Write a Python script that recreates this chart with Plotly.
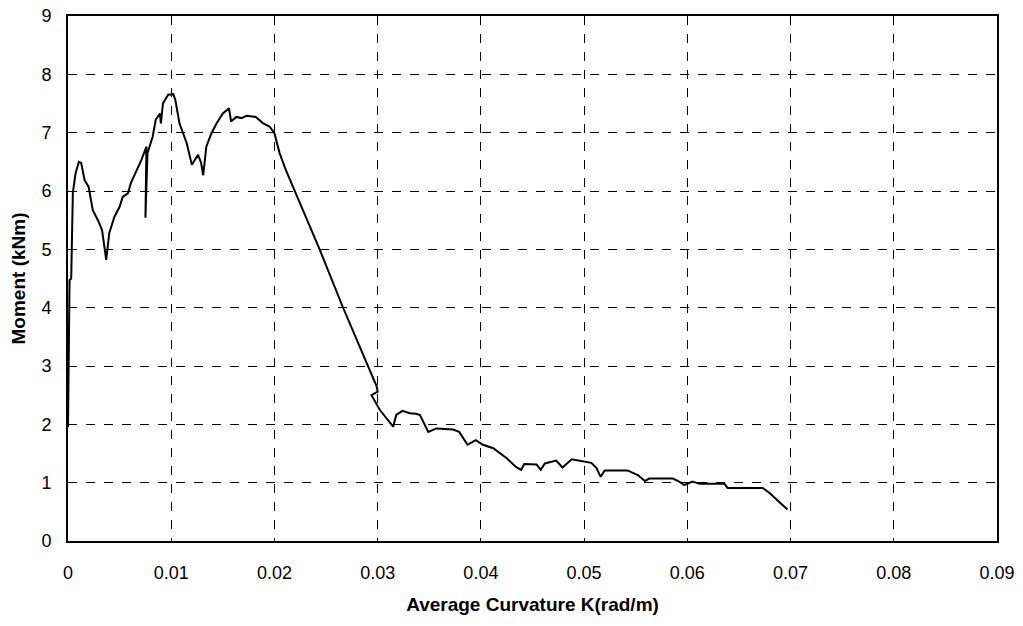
import plotly.graph_objects as go

curvature = [0.0, 0.0001, 0.00015, 0.00031, 0.00047, 0.00073, 0.00105, 0.00128, 0.0016, 0.0020,
             0.0024, 0.0029, 0.0033, 0.0037, 0.0040, 0.0045, 0.0050, 0.0053, 0.0058, 0.0061,
             0.0066, 0.0071, 0.0076, 0.0075, 0.0077, 0.0082, 0.0085, 0.0089, 0.0090, 0.0092,
             0.0097, 0.0102, 0.0104, 0.0108, 0.0115, 0.0120, 0.0126, 0.0129, 0.0131, 0.0134,
             0.0139, 0.0144, 0.0150, 0.0156, 0.0158, 0.0163, 0.0168, 0.0173, 0.0182, 0.0189,
             0.0195, 0.0200, 0.0205, 0.0211, 0.0218, 0.0244, 0.0266, 0.0299, 0.0300, 0.0294,
             0.0302, 0.0310, 0.0315, 0.0318, 0.0324, 0.0331, 0.0337, 0.0341, 0.0349, 0.0357,
             0.0373, 0.0379, 0.0387, 0.0395, 0.0402, 0.0412, 0.0425, 0.0434, 0.0439, 0.0442,
             0.0454, 0.0458, 0.0462, 0.0473, 0.0479, 0.0488, 0.0499, 0.0507, 0.0512, 0.0516,
             0.0520, 0.0542, 0.0552, 0.0559, 0.0563, 0.0586, 0.0592, 0.0597, 0.0605, 0.0612,
             0.0636, 0.0639, 0.0673, 0.0680, 0.0689, 0.0697]
moment = [1.95, 3.7, 4.47, 4.5, 5.97, 6.3, 6.5, 6.48, 6.19, 6.07,
          5.67, 5.50, 5.33, 4.82, 5.28, 5.56, 5.73, 5.90, 5.96, 6.14,
          6.33, 6.53, 6.76, 5.54, 6.65, 6.93, 7.22, 7.33, 7.16, 7.50,
          7.65, 7.66, 7.56, 7.16, 6.82, 6.45, 6.62, 6.48, 6.27, 6.76,
          6.99, 7.16, 7.33, 7.42, 7.19, 7.27, 7.25, 7.29, 7.27, 7.16,
          7.11, 6.99, 6.65, 6.36, 6.07, 4.99, 4.02, 2.65, 2.56, 2.50,
          2.25, 2.07, 1.96, 2.16, 2.23, 2.19, 2.18, 2.16, 1.87, 1.93,
          1.91, 1.87, 1.65, 1.73, 1.65, 1.59, 1.42, 1.27, 1.22, 1.32,
          1.31, 1.22, 1.33, 1.38, 1.26, 1.40, 1.36, 1.34, 1.25, 1.10,
          1.21, 1.21, 1.13, 1.03, 1.07, 1.07, 1.02, 0.96, 1.02, 0.98,
          0.98, 0.91, 0.91, 0.82, 0.67, 0.54]

x_ticks = [0, 0.01, 0.02, 0.03, 0.04, 0.05, 0.06, 0.07, 0.08, 0.09]
x_tick_labels = ["0", "0.01", "0.02", "0.03", "0.04", "0.05", "0.06", "0.07", "0.08", "0.09"]
y_ticks = [0, 1, 2, 3, 4, 5, 6, 7, 8, 9]
y_tick_labels = ["0", "1", "2", "3", "4", "5", "6", "7", "8", "9"]

fig = go.Figure()
fig.add_trace(go.Scatter(x=curvature, y=moment, mode="lines",
                         line=dict(color="black", width=2), showlegend=False))

font_family = "Liberation Sans, Arial, sans-serif"
fig.update_layout(
    width=1023, height=626,
    margin=dict(l=68, r=26, t=16, b=85),
    paper_bgcolor="white", plot_bgcolor="white",
    font=dict(family=font_family, color="black", size=18),
    xaxis=dict(range=[0, 0.09], tickvals=x_ticks, ticktext=x_tick_labels,
               showgrid=True, gridcolor="black", griddash="dash", gridwidth=1,
               showline=True, linecolor="black", linewidth=2, mirror=True,
               ticks="", ticklabelstandoff=14, zeroline=False, automargin=False,
               ticklabeloverflow="allow",
               title=dict(text="<b>Average Curvature K(rad/m)</b>", font=dict(size=19), standoff=16)),
    yaxis=dict(range=[0, 9], tickvals=y_ticks, ticktext=y_tick_labels,
               showgrid=True, gridcolor="black", griddash="dash", gridwidth=1,
               showline=True, linecolor="black", linewidth=2, mirror=True,
               ticks="", ticklabelstandoff=11, zeroline=False, automargin=False,
               ticklabeloverflow="allow",
               title=dict(text="<b>Moment (kNm)</b>", font=dict(size=19), standoff=11)),
)

fig.write_html("out.html", config={"displayModeBar": False},
               post_script="document.body.style.margin='0';document.body.style.padding='0';")
